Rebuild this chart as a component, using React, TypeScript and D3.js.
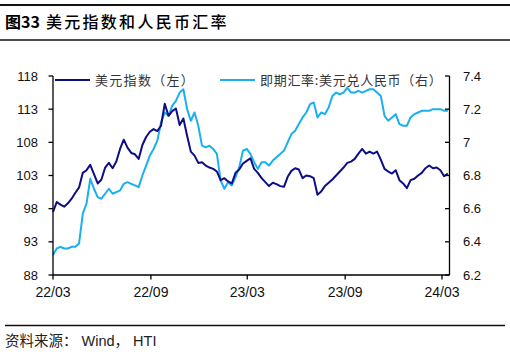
import * as d3 from 'd3';
import React, { useEffect, useRef } from 'react';

// weekly samples, first one on 2022-03-01
const startDate = new Date(Date.UTC(2022, 2, 1));

const dxy = [
  97.5, 99.0, 98.6, 98.3, 98.8, 99.5, 100.4, 101.2, 103.4, 103.8,
  104.6, 103.2, 101.8, 102.4, 104.2, 104.9, 104.1, 105.1, 107.0, 108.4,
  107.2, 106.4, 106.2, 105.5, 107.6, 108.8, 109.6, 110.0, 109.7, 110.5,
  113.8, 112.0, 112.7, 113.1, 110.6, 111.6, 109.0, 106.6, 106.0, 104.9,
  105.0, 104.5, 104.2, 104.0, 103.6, 102.3, 102.6, 102.1, 101.8, 103.4,
  103.9, 104.8, 105.2, 105.6, 104.0, 103.4, 102.6, 102.0, 101.4, 101.9,
  101.7, 101.4, 101.3, 102.8, 103.7, 104.1, 103.9, 102.6, 103.0, 102.9,
  102.6, 100.1, 100.6, 101.4, 101.9, 102.4, 103.0, 103.6, 104.2, 104.9,
  105.1, 105.5, 106.3, 107.0, 106.3, 106.6, 106.3, 106.6, 105.4, 104.0,
  103.6, 103.3, 103.8, 102.3, 101.8, 101.1, 102.3, 102.5, 103.0, 103.4,
  104.1, 104.5, 104.1, 104.2, 103.8, 102.9, 103.3,
];

const usdcny = [
  6.32, 6.36, 6.37, 6.36, 6.36, 6.37, 6.37, 6.39, 6.57, 6.63,
  6.78, 6.72, 6.67, 6.66, 6.69, 6.72, 6.69, 6.70, 6.71, 6.75,
  6.76, 6.75, 6.74, 6.73, 6.80, 6.86, 6.92, 6.96, 7.01, 7.12,
  7.18, 7.16, 7.22, 7.25, 7.30, 7.32, 7.20, 7.13, 7.18, 7.10,
  6.98, 6.97, 6.98, 6.96, 6.93, 6.77, 6.72, 6.76, 6.74, 6.79,
  6.85, 6.95, 6.96, 6.93, 6.88, 6.84, 6.88, 6.88, 6.86, 6.89,
  6.91, 6.93, 6.95, 7.00, 7.05, 7.07, 7.11, 7.15, 7.18, 7.23,
  7.24, 7.15, 7.18, 7.17, 7.21, 7.28, 7.30, 7.29, 7.30, 7.33,
  7.30, 7.30, 7.31, 7.30, 7.31, 7.32, 7.32, 7.30, 7.28, 7.16,
  7.13, 7.15, 7.17, 7.11, 7.10, 7.10, 7.15, 7.17, 7.18, 7.19,
  7.19, 7.19, 7.20, 7.20, 7.20, 7.19, 7.19,
];

const leftTicks = [88, 93, 98, 103, 108, 113, 118];
const rightTicks = [6.2, 6.4, 6.6, 6.8, 7, 7.2, 7.4];
const xTicks = ['2022-03-01', '2022-09-01', '2023-03-01', '2023-09-01', '2024-03-01'];

const NAVY = '#0d0d86';
const SKY = '#1ab0ef';
const numFont = '"Liberation Sans", Arial, "Noto Sans CJK SC", sans-serif';
const cjkFont = '"Noto Sans CJK SC", sans-serif';

export default function App() {
  const ref = useRef<SVGSVGElement | null>(null);

  useEffect(() => {
    const svg = d3.select(ref.current);
    svg.selectAll('*').remove();

    const left = 53;
    const right = 449.5;
    const top = 76;
    const bottom = 275;

    const x = d3
      .scaleUtc()
      .domain([new Date(Date.UTC(2022, 2, 1)), new Date(Date.UTC(2024, 2, 1))])
      .range([left, 442]);
    const yL = d3.scaleLinear().domain([88, 118]).range([bottom, top]);
    const yR = d3.scaleLinear().domain([6.2, 7.4]).range([bottom, top]);

    const dates = dxy.map((_, i) => d3.utcDay.offset(startDate, i * 7));

    // title and rules
    svg.append('line').attr('x1', 0).attr('x2', 510).attr('y1', 5).attr('y2', 5)
      .attr('stroke', '#111').attr('stroke-width', 2);
    svg.append('line').attr('x1', 0).attr('x2', 510).attr('y1', 40).attr('y2', 40)
      .attr('stroke', '#111').attr('stroke-width', 1.5);
    const title = svg.append('text').attr('x', 5).attr('y', 28)
      .attr('font-family', cjkFont).attr('font-size', 16).attr('fill', '#000');
    title.append('tspan').attr('font-weight', 700).text('图33');
    title.append('tspan').attr('dx', 6).attr('letter-spacing', 2.3).attr('font-weight', 500)
      .text('美元指数和人民币汇率');

    svg.append('line').attr('x1', 5).attr('x2', 505).attr('y1', 325.5).attr('y2', 325.5)
      .attr('stroke', '#111').attr('stroke-width', 1.5);
    svg.append('text').attr('x', 5).attr('y', 346)
      .attr('font-family', numFont).attr('font-size', 14.5).attr('fill', '#222')
      .text('资料来源： Wind， HTI');

    // lines
    const lineL = d3.line<number>().x((_, i) => x(dates[i])).y(d => yL(d));
    const lineR = d3.line<number>().x((_, i) => x(dates[i])).y(d => yR(d));

    svg.append('path').datum(usdcny).attr('d', lineR)
      .attr('fill', 'none').attr('stroke', SKY).attr('stroke-width', 2)
      .attr('stroke-linejoin', 'round');
    svg.append('path').datum(dxy).attr('d', lineL)
      .attr('fill', 'none').attr('stroke', NAVY).attr('stroke-width', 2)
      .attr('stroke-linejoin', 'round');

    // axes
    const axisColor = '#000';
    svg.append('line').attr('x1', left).attr('x2', left).attr('y1', top).attr('y2', bottom)
      .attr('stroke', axisColor).attr('stroke-width', 1.3);
    svg.append('line').attr('x1', right).attr('x2', right).attr('y1', top).attr('y2', bottom)
      .attr('stroke', axisColor).attr('stroke-width', 1.3);
    svg.append('line').attr('x1', left).attr('x2', right).attr('y1', bottom).attr('y2', bottom)
      .attr('stroke', axisColor).attr('stroke-width', 1.3);

    leftTicks.forEach(t => {
      svg.append('line').attr('x1', left - 4.5).attr('x2', left).attr('y1', yL(t)).attr('y2', yL(t))
        .attr('stroke', axisColor).attr('stroke-width', 1.3);
      svg.append('text').attr('x', 38).attr('y', yL(t)).attr('dy', '0.35em')
        .attr('text-anchor', 'end').attr('font-family', numFont).attr('font-size', 13)
        .attr('fill', '#111').text(t);
    });

    rightTicks.forEach(t => {
      svg.append('line').attr('x1', right - 4.5).attr('x2', right).attr('y1', yR(t)).attr('y2', yR(t))
        .attr('stroke', axisColor).attr('stroke-width', 1.3);
      svg.append('text').attr('x', 463).attr('y', yR(t)).attr('dy', '0.35em')
        .attr('font-family', numFont).attr('font-size', 13)
        .attr('fill', '#111').text(t);
    });

    const fmt = d3.utcFormat('%y/%m');
    xTicks.forEach(s => {
      const d = new Date(s + 'T00:00:00Z');
      svg.append('line').attr('x1', x(d)).attr('x2', x(d)).attr('y1', bottom).attr('y2', bottom + 4.5)
        .attr('stroke', axisColor).attr('stroke-width', 1.3);
      svg.append('text').attr('x', x(d)).attr('y', 297)
        .attr('text-anchor', 'middle').attr('font-family', numFont).attr('font-size', 14)
        .attr('fill', '#111').text(fmt(d));
    });

    // legend
    svg.append('line').attr('x1', 55).attr('x2', 90).attr('y1', 80).attr('y2', 80)
      .attr('stroke', NAVY).attr('stroke-width', 2);
    svg.append('text').attr('x', 95).attr('y', 80).attr('dy', '0.35em')
      .attr('font-family', cjkFont).attr('font-size', 13).attr('letter-spacing', 1.3)
      .attr('fill', '#333').text('美元指数（左）');
    svg.append('line').attr('x1', 220).attr('x2', 255).attr('y1', 80).attr('y2', 80)
      .attr('stroke', SKY).attr('stroke-width', 2);
    svg.append('text').attr('x', 260).attr('y', 80).attr('dy', '0.35em')
      .attr('font-family', cjkFont).attr('font-size', 13).attr('letter-spacing', 0.7)
      .attr('fill', '#333').text('即期汇率:美元兑人民币（右）');
  }, []);

  return (
    <svg
      ref={ref}
      width={510}
      height={354}
      style={{ position: 'absolute', left: 0, top: 0, background: '#fff' }}
    />
  );
}
